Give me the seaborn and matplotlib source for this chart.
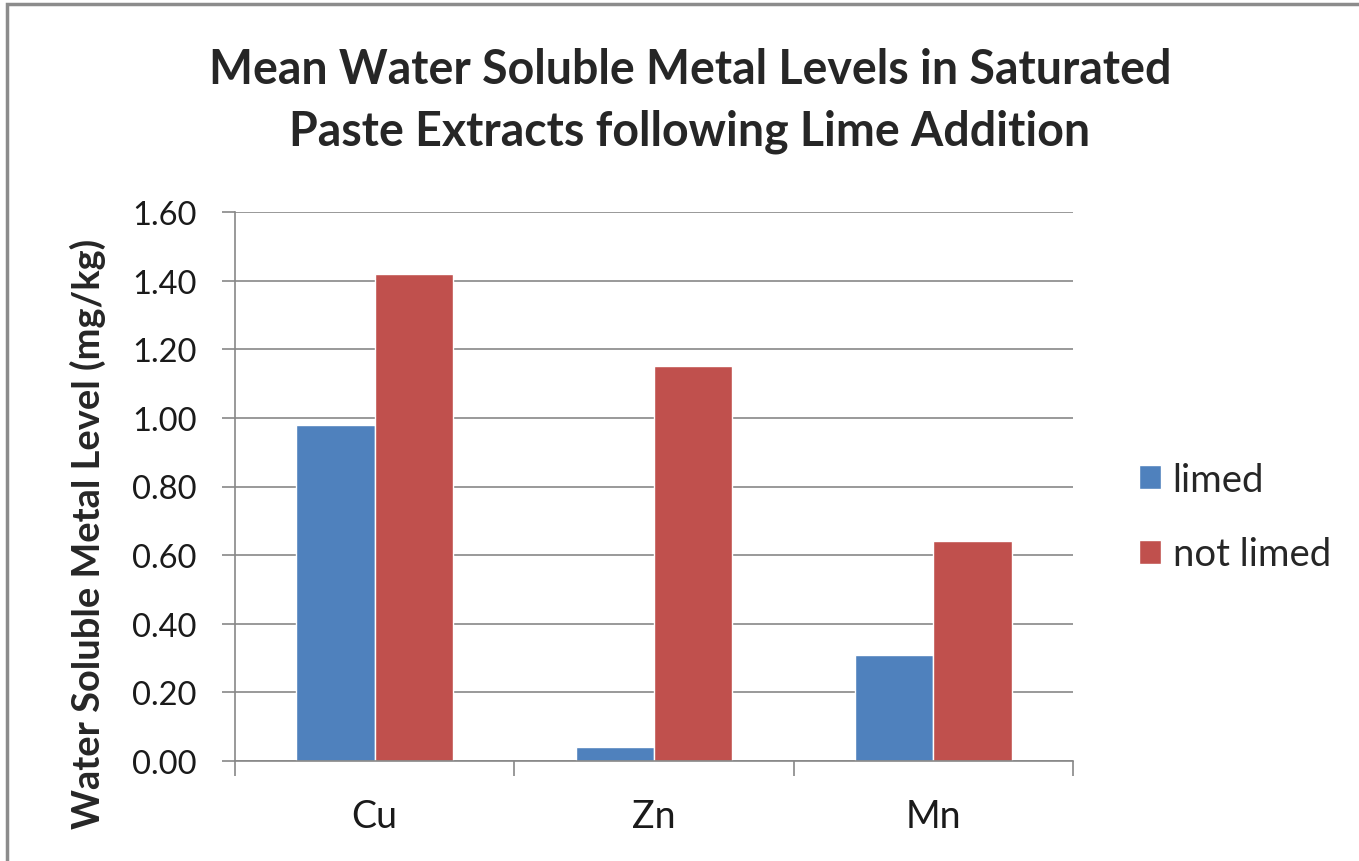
import matplotlib
matplotlib.use("Agg")
import matplotlib.pyplot as plt
import seaborn as sns
import pandas as pd
from matplotlib.patches import Rectangle

# ---- data ----
metals = ["Cu", "Zn", "Mn"]
limed = [0.98, 0.04, 0.31]
not_limed = [1.42, 1.15, 0.64]
series_names = ["limed", "not limed"]
yticks = [0.0, 0.2, 0.4, 0.6, 0.8, 1.0, 1.2, 1.4, 1.6]

df = pd.DataFrame({
    "metal": metals * 2,
    "value": limed + not_limed,
    "treatment": [series_names[0]] * len(metals) + [series_names[1]] * len(metals),
})

sns.set_theme(style="white")
plt.rcParams["font.family"] = ["Lato", "DejaVu Sans"]

W, H = 1359, 862
fig = plt.figure(figsize=(W / 100, H / 100), dpi=100)
ax = fig.add_axes([235 / W, 1 - 762 / H, (1073 - 235) / W, (762 - 213) / H])

sns.barplot(data=df, x="metal", y="value", hue="treatment",
            palette=["#4F81BD", "#C0504D"], width=0.56, gap=0,
            saturation=1, ax=ax, legend=True, errorbar=None)

grid_c = "#878787"
ax.set_ylim(0, 1.6)
ax.set_xlim(-0.5, 2.5)
ax.set_yticks(yticks)
ax.set_yticklabels([f"{v:.2f}" for v in yticks])
ax.yaxis.grid(True, color=grid_c, linewidth=1.2)
ax.set_axisbelow(True)
for s in ["top", "right"]:
    ax.spines[s].set_visible(False)
for s in ["left", "bottom"]:
    ax.spines[s].set_color(grid_c)
    ax.spines[s].set_linewidth(1.2)

ax.tick_params(axis="y", which="major", length=9.5, width=1.2, color=grid_c,
               labelsize=23.5, pad=18, labelcolor="#1a1a1a", left=True)
ax.set_xticks([-0.5, 0.5, 1.5, 2.5], minor=True)
ax.tick_params(axis="x", which="minor", length=11, width=1.2, color=grid_c, bottom=True)
ax.tick_params(axis="x", which="major", length=0, labelsize=27, pad=27, labelcolor="#1a1a1a")

ax.set_xlabel("")
ax.set_ylabel("Water Soluble Metal Level (mg/kg)", fontsize=27.4, fontweight="bold",
              va="center", ha="center")
ax.yaxis.set_label_coords((88 - 235) / (1073 - 235), (762 - 534) / (762 - 213))

fig.suptitle("Mean Water Soluble Metal Levels in Saturated\nPaste Extracts following Lime Addition",
             x=690 / W, y=1 - 101 / H, va="center", ha="center",
             fontsize=33.5, fontweight="bold", linespacing=1.5)

leg = ax.legend(loc="center left", bbox_to_anchor=(1139 / W, 1 - 518 / H),
                bbox_transform=fig.transFigure, frameon=False, fontsize=27.5,
                handlelength=0.58, handleheight=0.58, handletextpad=0.3,
                labelspacing=1.02, borderpad=0, borderaxespad=0, title=None)

# chart border (top and left visible)
fig.patches.append(Rectangle((7 / W, -0.1), 1.2, 1 - 5 / H + 0.1,
                             transform=fig.transFigure, fill=False,
                             edgecolor="#8c8c8c", linewidth=2.5))

fig.savefig("out.png", dpi=100)
